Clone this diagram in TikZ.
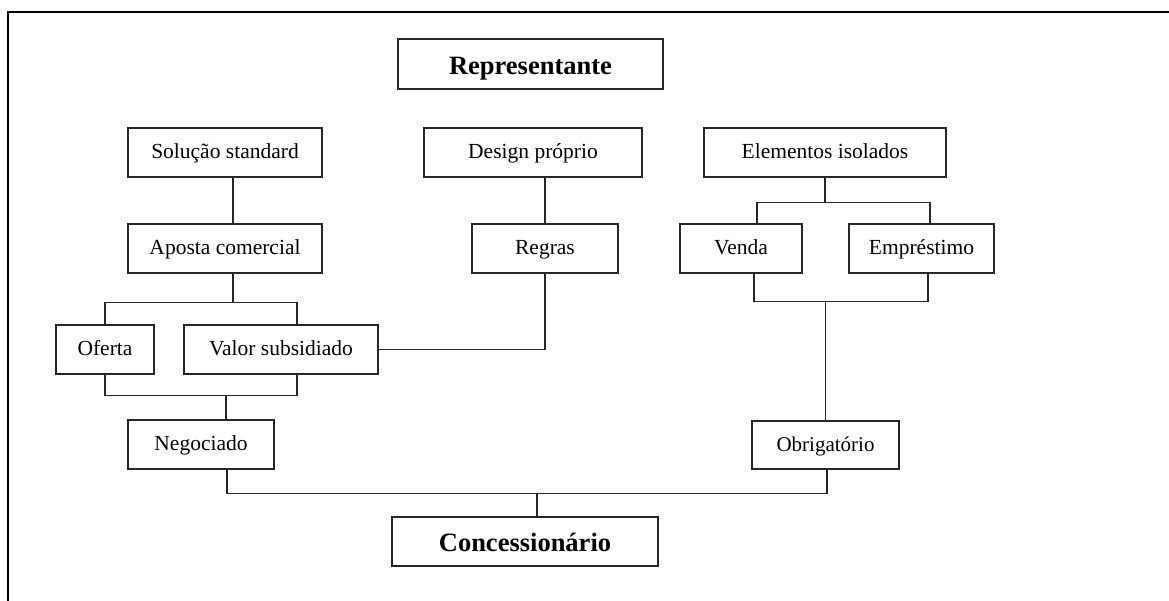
\documentclass[tikz,border=0pt]{standalone}
\usepackage{fontspec}
\setmainfont{Liberation Serif}
\begin{document}
\begin{tikzpicture}[x=1pt,y=-1pt,
  box/.style={draw=black!85,line width=1.4pt,rectangle,inner sep=0pt,
    minimum height=49,text height=16,text depth=4,
    font=\fontsize{21.5}{24}\selectfont},
  bigbox/.style={box,text height=20,text depth=0,
    font=\fontsize{26.5}{30}\selectfont\bfseries},
  link/.style={draw=black!85,line width=1.3pt}]
\useasboundingbox (0,0) rectangle (1169,600);

% outer frame, open towards the bottom and the right
\draw[line width=2.2pt] (7.7,610) -- (7.7,12) -- (1180,12);

% boxes
\node[bigbox,minimum width=265,minimum height=50] (rep) at (530.5,64) {Representante};
\node[box,minimum width=194] (sol) at (225,152.5) {Solução standard};
\node[box,minimum width=218] (des) at (533,152.5) {Design próprio};
\node[box,minimum width=242] (ele) at (825,152.5) {Elementos isolados};
\node[box,minimum width=194] (apo) at (225,248.5) {Aposta comercial};
\node[box,minimum width=146] (reg) at (545,248.5) {Regras};
\node[box,minimum width=122] (ven) at (741,248.5) {Venda};
\node[box,minimum width=145] (emp) at (921.5,248.5) {Empréstimo};
\node[box,minimum width=98] (ofe) at (105,349.5) {Oferta};
\node[box,minimum width=194] (val) at (281,349.5) {Valor subsidiado};
\node[box,minimum width=146] (neg) at (201,444.5) {Negociado};
\node[box,minimum width=147,minimum height=48,font=\fontsize{21}{24}\selectfont] (obr) at (825.5,445) {Obrigatório};
\node[bigbox,minimum width=266,minimum height=49] (con) at (525,541.5) {Concessionário};

% left branch
\draw[link] ([xshift=8]sol.south) -- ([xshift=8]apo.north);
\draw[link] ([xshift=8]apo.south) -- ++(0,29) coordinate (ab);
\draw[link] (ofe.north) |- (ab) -| ([xshift=16]val.north);
\draw[link] ([xshift=25]neg.north) -- ++(0,-23.5) coordinate (nb);
\draw[link] (ofe.south) |- (nb) -| ([xshift=16]val.south);

% middle branch
\draw[link] (reg.north |- des.south) -- (reg.north);
\draw[link] (val.east) -| (reg.south);

% right branch
\draw[link] (ele.south) -- ++(0,24.5) coordinate (eb);
\draw[link] ([xshift=16]ven.north) |- (eb) -| ([xshift=8.5]emp.north);
\draw[link] (obr.north) -- ++(0,-119) coordinate (vb);
\draw[link] ([xshift=13]ven.south) |- (vb) -| ([xshift=6.5]emp.south);

% joining towards the dealer
\draw[link] ([xshift=12]con.north) -- ++(0,-23) coordinate (cb);
\draw[link] ([xshift=26]neg.south) |- (cb) -| ([xshift=1.5]obr.south);
\end{tikzpicture}
\end{document}
